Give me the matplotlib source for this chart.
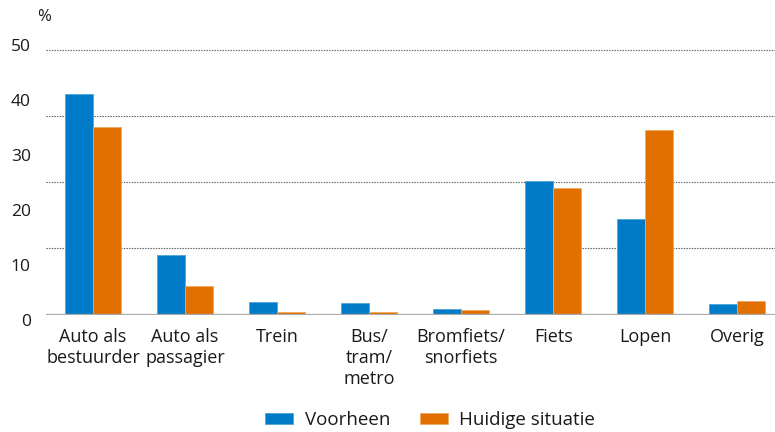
import numpy as np
import matplotlib
matplotlib.use("Agg")
import matplotlib.pyplot as plt

# === Data (%) ===
categories = ["Auto als\nbestuurder", "Auto als\npassagier", "Trein", "Bus/\ntram/\nmetro",
              "Bromfiets/\nsnorfiets", "Fiets", "Lopen", "Overig"]
voorheen = [40.1, 10.9, 2.3, 2.1, 1.0, 24.3, 17.3, 1.9]
huidig = [34.1, 5.1, 0.4, 0.4, 0.8, 23.0, 33.5, 2.5]
series_names = ["Voorheen", "Huidige situatie"]
y_ticks = [0, 10, 20, 30, 40, 50]
grid_levels = [12.1, 24.0, 36.0, 48.1]  # dotted lines sit off the tick labels in the original

# === Style ===
plt.rcParams['font.family'] = ['Open Sans', 'DejaVu Sans']
blue = '#007BC7'
orange = '#E17000'
text_col = '#1a1a1a'

fig = plt.figure(figsize=(7.75, 4.32), dpi=100)
ax = fig.add_axes([46 / 775, (432 - 314.5) / 432, (775 - 46) / 775, (314.5 - 30) / 432])

x = np.arange(len(categories))
w = 0.304
ax.bar(x - w / 2, voorheen, w, color=blue, edgecolor='#4da3dc', linewidth=0.6,
       label=series_names[0], zorder=3)
ax.bar(x + w / 2, huidig, w, color=orange, edgecolor='#f0a860', linewidth=0.6,
       label=series_names[1], zorder=3)

ax.set_xlim(-0.51, 7.41)
ax.set_ylim(0, 51.7)

for g in grid_levels:
    ax.axhline(g, color='#555555', linestyle=(0, (1.2, 1.2)), linewidth=0.8, zorder=1)
ax.axhline(0, color='#aaaaaa', linewidth=1.6, zorder=4)

for s in ax.spines.values():
    s.set_visible(False)

ax.set_yticks(y_ticks)
ax.set_yticklabels([str(v) for v in y_ticks], fontsize=12.5, color=text_col)
ax.tick_params(axis='y', length=0, pad=11)
for lab in ax.get_yticklabels():
    lab.set_va('top')
ax.set_xticks(x)
ax.set_xticklabels(categories, fontsize=13, color=text_col, linespacing=1.2)
ax.tick_params(axis='x', length=0, pad=10)

fig.text(37 / 775, 1 - 17 / 432, "%", fontsize=12, color=text_col, va='center', ha='left')

fig.legend(loc='center', bbox_to_anchor=(0.555, 0.027), ncol=2, frameon=False,
           fontsize=13.5, handlelength=1.5, handleheight=0.55, handletextpad=0.6,
           columnspacing=1.6, labelcolor=text_col, borderpad=0.1)

fig.savefig("out.png", dpi=100)
